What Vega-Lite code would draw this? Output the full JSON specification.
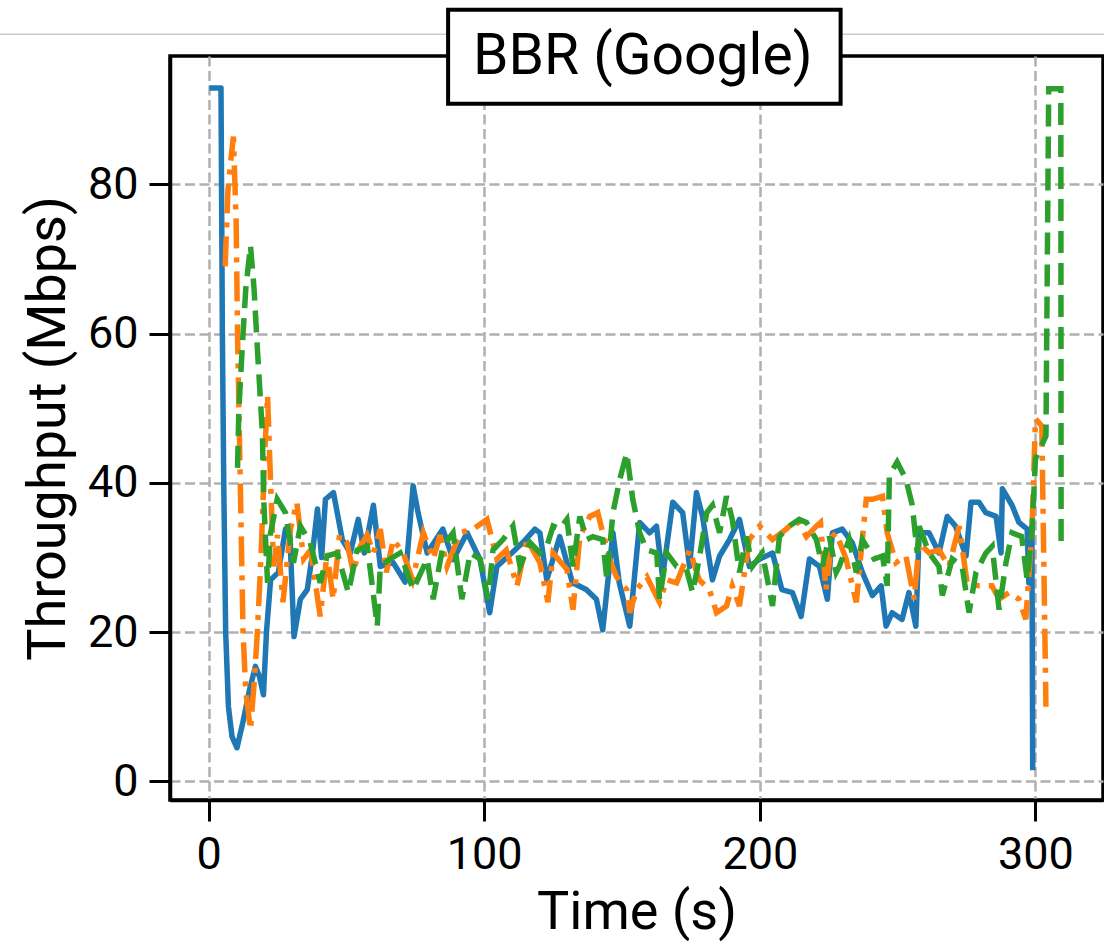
{
  "$schema": "https://vega.github.io/schema/vega-lite/v6.json",
  "autosize": "none",
  "width": 933,
  "height": 744,
  "padding": {"left": 170, "top": 56, "right": 1, "bottom": 144},
  "background": "white",
  "config": {
    "view": {"stroke": "black", "strokeWidth": 3.5},
    "font": "Roboto",
    "axis": {
      "labelFont": "Roboto", "labelFontSize": 45, "labelColor": "black",
      "titleFont": "Roboto", "titleFontSize": 54, "titleColor": "black", "titleFontWeight": "normal",
      "tickColor": "black", "tickWidth": 3, "tickSize": 21,
      "domainColor": "black", "domainWidth": 3.5,
      "grid": true, "gridColor": "#b0b0b0", "gridDash": [10, 4.5], "gridWidth": 2.5,
      "labelPadding": 11
    }
  },
  "datasets": {
    "blue": [
      {"t":0.3,"v":92.9},{"t":4.5,"v":92.9},{"t":5,"v":60},{"t":5.5,"v":40},{"t":6.2,"v":20},{"t":7.2,"v":10},{"t":8.5,"v":6},{"t":10.3,"v":4.5},{"t":12.5,"v":8},{"t":15,"v":12.5},{"t":17,"v":15.4},{"t":18.5,"v":14},{"t":19.9,"v":11.6},{"t":21,"v":20},{"t":22.5,"v":27},{"t":25.3,"v":28},{"t":27.9,"v":33.8},{"t":29.5,"v":33},{"t":31,"v":19.4},{"t":33.3,"v":24.4},{"t":35.8,"v":25.7},{"t":37.5,"v":30},{"t":39.5,"v":36.5},{"t":41,"v":30},{"t":42.4,"v":37.8},{"t":45.3,"v":38.7},{"t":48.5,"v":32.4},{"t":51.4,"v":30.6},{"t":54.3,"v":35.1},{"t":56.5,"v":30.6},{"t":59.8,"v":37},{"t":62.3,"v":28.8},{"t":67,"v":29.3},{"t":71.3,"v":26.7},{"t":74.2,"v":39.6},{"t":76,"v":36},{"t":79.3,"v":30.6},{"t":85,"v":33.8},{"t":88.7,"v":29.7},{"t":93.8,"v":33.3},{"t":98.5,"v":29.7},{"t":102,"v":22.6},{"t":104.6,"v":28.8},{"t":110,"v":30.6},{"t":114,"v":32},{"t":118.4,"v":33.8},{"t":120.2,"v":33.3},{"t":122.7,"v":27},{"t":127.4,"v":32.8},{"t":132,"v":26.6},{"t":137,"v":25.7},{"t":140.7,"v":24.4},{"t":143,"v":20.3},{"t":146.7,"v":33.3},{"t":149,"v":26.6},{"t":152.8,"v":20.8},{"t":156.4,"v":34.7},{"t":160,"v":33.3},{"t":162.5,"v":34.2},{"t":164.7,"v":27.4},{"t":168.4,"v":37.4},{"t":172,"v":36},{"t":174.5,"v":28.8},{"t":177,"v":38.7},{"t":179.2,"v":35.5},{"t":182.8,"v":27},{"t":185.4,"v":30.2},{"t":189,"v":32.4},{"t":192.6,"v":35.1},{"t":196.2,"v":28.8},{"t":200,"v":29.8},{"t":204.6,"v":30.6},{"t":208,"v":25.7},{"t":211.8,"v":25.3},{"t":215,"v":22.1},{"t":218,"v":29.8},{"t":221.6,"v":28.8},{"t":224.5,"v":24.4},{"t":226.3,"v":33.3},{"t":229.9,"v":33.8},{"t":233.5,"v":32},{"t":237.2,"v":28},{"t":240.8,"v":24.9},{"t":244,"v":26.2},{"t":245.8,"v":20.8},{"t":248,"v":22.6},{"t":251.6,"v":21.7},{"t":254.1,"v":25.3},{"t":256.6,"v":20.8},{"t":257.8,"v":33.3},{"t":261.4,"v":33.3},{"t":265,"v":30.6},{"t":268,"v":35.5},{"t":271,"v":34.2},{"t":274.8,"v":30.2},{"t":276.6,"v":37.4},{"t":279.5,"v":37.4},{"t":282,"v":36},{"t":285.7,"v":35.5},{"t":287.5,"v":30.6},{"t":288,"v":39.2},{"t":291.5,"v":37},{"t":294,"v":34.7},{"t":297,"v":33.8},{"t":297.6,"v":26.6},{"t":298.7,"v":34.2},{"t":299,"v":1.5}
    ],
    "orange": [
      {"t":6,"v":69},{"t":7,"v":79},{"t":8,"v":83},{"t":9,"v":86.4},{"t":10,"v":75},{"t":10.5,"v":60},{"t":11.5,"v":40},{"t":12.5,"v":20},{"t":13.5,"v":12},{"t":15.2,"v":6.9},{"t":16.5,"v":13},{"t":17.7,"v":20},{"t":19,"v":30},{"t":20.5,"v":45},{"t":21.4,"v":51.7},{"t":22.5,"v":40},{"t":23.6,"v":28.8},{"t":25,"v":33},{"t":27,"v":24},{"t":29.7,"v":33.8},{"t":32,"v":37.4},{"t":34.5,"v":29.8},{"t":37,"v":31},{"t":40.5,"v":22.1},{"t":43,"v":30.6},{"t":45.2,"v":24.4},{"t":47.5,"v":33},{"t":50.2,"v":32},{"t":52.5,"v":28},{"t":55,"v":31.5},{"t":57.5,"v":33},{"t":59.8,"v":30.6},{"t":62.3,"v":33.8},{"t":64.5,"v":28},{"t":67,"v":32.4},{"t":70.6,"v":30.6},{"t":74,"v":27},{"t":77.9,"v":33.3},{"t":81.5,"v":29.8},{"t":84,"v":33},{"t":86.5,"v":28.8},{"t":91.2,"v":33.3},{"t":96,"v":33.8},{"t":101,"v":35.1},{"t":104.6,"v":29.8},{"t":108,"v":31},{"t":111.9,"v":26.2},{"t":115.5,"v":32.4},{"t":120.2,"v":29.3},{"t":123.1,"v":24},{"t":125,"v":30.6},{"t":130,"v":28.4},{"t":132.2,"v":23},{"t":134.7,"v":32.8},{"t":138.3,"v":35.5},{"t":141.2,"v":36},{"t":143,"v":33.3},{"t":145.5,"v":29.8},{"t":148,"v":27.4},{"t":151.7,"v":25.7},{"t":152.8,"v":22.6},{"t":155.3,"v":25.7},{"t":159,"v":27.4},{"t":163.6,"v":24},{"t":166.2,"v":27},{"t":169.8,"v":26.6},{"t":174.5,"v":31},{"t":178,"v":27},{"t":181.7,"v":25.7},{"t":184.3,"v":22.6},{"t":187.9,"v":23.5},{"t":190,"v":26.2},{"t":192.6,"v":23.5},{"t":196.2,"v":32.4},{"t":199.9,"v":34.2},{"t":204.6,"v":32.4},{"t":209.6,"v":33.8},{"t":213.3,"v":35.1},{"t":216.9,"v":32.8},{"t":220.5,"v":34.2},{"t":222,"v":34.7},{"t":224,"v":25.7},{"t":226.3,"v":32.8},{"t":227.7,"v":33.3},{"t":231.3,"v":29.8},{"t":235,"v":24},{"t":238.6,"v":37.8},{"t":240.8,"v":37.8},{"t":244.5,"v":38.2},{"t":246.2,"v":33.3},{"t":249.4,"v":29.3},{"t":253,"v":30.2},{"t":256,"v":24.4},{"t":257.8,"v":32},{"t":261.4,"v":30.6},{"t":265,"v":31},{"t":268.6,"v":28.8},{"t":272.3,"v":34.2},{"t":275.2,"v":26.6},{"t":279.5,"v":26.2},{"t":284.2,"v":26.2},{"t":286.8,"v":24.4},{"t":290.4,"v":25.3},{"t":294,"v":24.4},{"t":296.5,"v":21.7},{"t":298.7,"v":33.3},{"t":300,"v":48.6},{"t":302.3,"v":47.6},{"t":303.8,"v":10}
    ],
    "green": [
      {"t":10.5,"v":42},{"t":11,"v":50},{"t":12.5,"v":60},{"t":13.5,"v":66},{"t":15.2,"v":71.8},{"t":16.5,"v":66},{"t":17.7,"v":58},{"t":19.5,"v":46.8},{"t":20,"v":37.8},{"t":21.4,"v":26.6},{"t":22.5,"v":33.3},{"t":24.9,"v":37.8},{"t":27.9,"v":36},{"t":30.8,"v":29.3},{"t":33.3,"v":34.2},{"t":36.9,"v":32},{"t":40.5,"v":26.6},{"t":43,"v":30.2},{"t":46.7,"v":30.6},{"t":50.7,"v":25.3},{"t":53.9,"v":31},{"t":57.6,"v":31.5},{"t":61.2,"v":20.8},{"t":62.3,"v":28.8},{"t":65.9,"v":29.8},{"t":69.5,"v":30.6},{"t":74.2,"v":25.7},{"t":79.3,"v":29.8},{"t":81.5,"v":24.4},{"t":85,"v":31.5},{"t":88.7,"v":33.3},{"t":91.9,"v":24.4},{"t":94.9,"v":30.6},{"t":98.5,"v":29.8},{"t":101.4,"v":24.4},{"t":103.2,"v":31},{"t":106.8,"v":32.4},{"t":110.4,"v":34.2},{"t":113,"v":28.8},{"t":116.6,"v":32},{"t":120.2,"v":30.6},{"t":122.7,"v":31.5},{"t":125,"v":34.2},{"t":127.4,"v":33.8},{"t":130,"v":35.1},{"t":132.2,"v":28.8},{"t":134.7,"v":35.5},{"t":137.2,"v":32.4},{"t":139.4,"v":32.8},{"t":143,"v":32.4},{"t":144.5,"v":27},{"t":146.7,"v":36},{"t":149.2,"v":40.5},{"t":151.7,"v":44},{"t":153.9,"v":37.8},{"t":156.4,"v":33.3},{"t":159,"v":31},{"t":162.6,"v":30.6},{"t":163.6,"v":24.4},{"t":166.2,"v":30.6},{"t":169.8,"v":28.8},{"t":173.4,"v":28.4},{"t":175.6,"v":25.3},{"t":178,"v":29.8},{"t":180.7,"v":36},{"t":182.8,"v":37},{"t":185.4,"v":33.3},{"t":187.9,"v":38.2},{"t":190,"v":35.1},{"t":192.6,"v":28},{"t":195.1,"v":32.8},{"t":197.3,"v":28.8},{"t":200.9,"v":30.6},{"t":204.6,"v":23.5},{"t":207.1,"v":32.8},{"t":210.7,"v":34.2},{"t":214.3,"v":35.1},{"t":216.9,"v":34.7},{"t":220.5,"v":32.4},{"t":222.7,"v":28.8},{"t":225.2,"v":32.8},{"t":227.7,"v":28},{"t":228.8,"v":28.8},{"t":232.4,"v":32.4},{"t":235,"v":28},{"t":237.2,"v":32.4},{"t":241.5,"v":29.8},{"t":244.5,"v":30.2},{"t":246.2,"v":26.2},{"t":247,"v":41},{"t":249.8,"v":42.8},{"t":253,"v":40.5},{"t":255.3,"v":37},{"t":257.1,"v":30.6},{"t":257.8,"v":34.2},{"t":261.4,"v":30.6},{"t":265,"v":28.8},{"t":266.2,"v":24.9},{"t":269.8,"v":29.8},{"t":273.4,"v":28.8},{"t":275.9,"v":22.6},{"t":278.4,"v":28},{"t":282,"v":30.6},{"t":284.3,"v":31.5},{"t":286.8,"v":23},{"t":289.3,"v":29.3},{"t":291.5,"v":33.3},{"t":295,"v":32.8},{"t":297,"v":27},{"t":298.7,"v":33.3},{"t":300,"v":43.2},{"t":303.8,"v":46.3},{"t":304.8,"v":92.8},{"t":309.2,"v":92.8},{"t":309.3,"v":31}
    ],
    "title": [{"label": "BBR (Google)"}]
  },
  "layer": [
    {
      "data": {"name": "title"},
      "mark": {"type": "rule", "stroke": "#cccccc", "strokeWidth": 1.5},
      "encoding": {
        "x": {"datum": -76, "type": "quantitative", "scale": {"domain": [-14.0, 324.5], "nice": false, "zero": false}},
        "x2": {"datum": 326},
        "y": {"datum": 100.1, "type": "quantitative", "scale": {"domain": [-2.5, 97.2], "nice": false, "zero": false}}
      }
    },
    {
      "data": {"name": "blue"},
      "mark": {"type": "line", "stroke": "#1f77b4", "strokeWidth": 5.5, "strokeJoin": "round"},
      "encoding": {
        "x": {"field": "t", "type": "quantitative", "scale": {"domain": [-14.0, 324.5], "nice": false, "zero": false},
              "axis": {"values": [0, 100, 200, 300], "title": "Time (s)", "titlePadding": 8}},
        "y": {"field": "v", "type": "quantitative", "scale": {"domain": [-2.5, 97.2], "nice": false, "zero": false},
              "axis": {"values": [0, 20, 40, 60, 80], "title": "Throughput (Mbps)", "titlePadding": 12}}
      }
    },
    {
      "data": {"name": "orange"},
      "mark": {"type": "line", "stroke": "#ff7f0e", "strokeWidth": 5.5, "strokeDash": [30, 9, 5, 9], "strokeCap": "butt"},
      "encoding": {
        "x": {"field": "t", "type": "quantitative"},
        "y": {"field": "v", "type": "quantitative"}
      }
    },
    {
      "data": {"name": "green"},
      "mark": {"type": "line", "stroke": "#2ca02c", "strokeWidth": 5.5, "strokeDash": [22, 10], "strokeCap": "butt"},
      "encoding": {
        "x": {"field": "t", "type": "quantitative"},
        "y": {"field": "v", "type": "quantitative"}
      }
    },
    {
      "data": {"name": "title"},
      "mark": {"type": "rect", "fill": "white", "stroke": "black", "strokeWidth": 4},
      "encoding": {
        "x": {"datum": 86.9, "type": "quantitative"},
        "x2": {"datum": 229.3},
        "y": {"datum": 103.4, "type": "quantitative"},
        "y2": {"datum": 90.8}
      }
    },
    {
      "data": {"name": "title"},
      "mark": {"type": "text", "font": "Roboto", "fontSize": 57, "align": "center", "baseline": "alphabetic", "color": "black"},
      "encoding": {
        "x": {"datum": 157.5, "type": "quantitative"},
        "y": {"datum": 94.8, "type": "quantitative"},
        "text": {"field": "label"}
      }
    }
  ]
}
